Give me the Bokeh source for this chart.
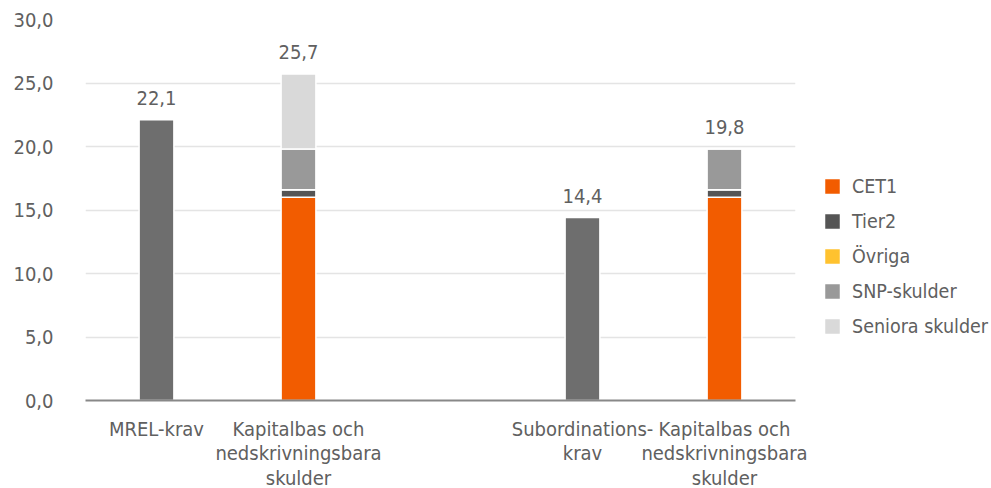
from bokeh.plotting import figure
from bokeh.models import ColumnDataSource, FixedTicker, Legend, LegendItem, Range1d
from bokeh.core.properties import value
from bokeh.embed import file_html
from bokeh.resources import INLINE

# Category slots (index 2 is an empty spacer between the two groups)
categories = ["MREL-krav", "Kapitalbas och\nnedskrivningsbara\nskulder", "",
              "Subordinations-\nkrav", "Kapitalbas och\nnedskrivningsbara\nskulder"]

# Requirement bars (single gray bars)
krav_x = [0, 3]
krav_values = [22.1, 14.4]

# Stacked capital / liabilities bars
stack_x = [1, 4]
cet1 = [16.0, 16.0]
tier2 = [0.6, 0.6]
ovriga = [0.0, 0.0]
snp = [3.2, 3.2]
seniora = [5.9, 0.0]

series_names = ["CET1", "Tier2", "Övriga", "SNP-skulder", "Seniora skulder"]
series_colors = ["#F25C00", "#555555", "#FFC22F", "#999999", "#D9D9D9"]
krav_color = "#6E6E6E"

y_ticks = [0, 5, 10, 15, 20, 25, 30]

FONT = "DejaVu Sans Condensed"
FONT_SIZE = "20px"
TEXT_COLOR = "#606060"


def fmt(v):
    return f"{v:.1f}".replace(".", ",")


p = figure(frame_width=710, frame_height=381, output_backend="svg",
           toolbar_location=None,
           x_range=Range1d(-0.5, 4.5), y_range=Range1d(0, 30),
           min_border_left=85, min_border_right=0, min_border_top=19,
           min_border_bottom=88)
p.outline_line_color = None
p.background_fill_color = "white"
p.border_fill_color = "white"

# Requirement bars
p.vbar(x=krav_x, top=krav_values, width=0.245, fill_color=krav_color,
       line_color="white", line_width=1.5)

# Stacked bars
src = ColumnDataSource(dict(x=stack_x, CET1=cet1, Tier2=tier2, Ovriga=ovriga,
                            SNP=snp, Seniora=seniora))
keys = ["CET1", "Tier2", "Ovriga", "SNP", "Seniora"]
renderers = p.vbar_stack(keys, x="x", width=0.245, source=src,
                         fill_color=series_colors, line_color="white",
                         line_width=1.5)

# Value labels above each bar
totals = [sum(v) for v in zip(cet1, tier2, ovriga, snp, seniora)]
lab_x = krav_x + stack_x
lab_y = krav_values + totals
p.text(x=lab_x, y=lab_y, text=[fmt(v) for v in lab_y], text_align="center",
       text_baseline="bottom", y_offset=-15, text_font=value(FONT),
       text_font_size=FONT_SIZE, text_color=TEXT_COLOR)

# Axes
p.xaxis.ticker = FixedTicker(ticks=[0, 1, 2, 3, 4])
p.xaxis.major_label_overrides = {i: c for i, c in enumerate(categories)}
p.xaxis.major_tick_line_color = None
p.xaxis.minor_tick_line_color = None
p.xaxis.axis_line_color = "#888888"
p.xaxis.axis_line_width = 2
p.xaxis.major_label_standoff = 10
p.xaxis.major_label_text_font = FONT
p.xaxis.major_label_text_font_size = FONT_SIZE
p.xaxis.major_label_text_line_height = 1.03
p.xaxis.major_label_text_color = TEXT_COLOR

p.yaxis.ticker = FixedTicker(ticks=y_ticks)
p.yaxis.major_label_overrides = {t: fmt(t) for t in y_ticks}
p.yaxis.axis_line_color = None
p.yaxis.major_tick_line_color = None
p.yaxis.minor_tick_line_color = None
p.yaxis.major_label_standoff = 26
p.yaxis.major_label_text_font = FONT
p.yaxis.major_label_text_font_size = FONT_SIZE
p.yaxis.major_label_text_color = TEXT_COLOR

p.xgrid.grid_line_color = None
p.ygrid.grid_line_color = "#E4E4E4"
p.ygrid.grid_line_width = 1.5

# Legend on the right
items = [LegendItem(label=n, renderers=[r]) for n, r in zip(series_names, renderers)]
legend = Legend(items=items, location=(27, 62), orientation="vertical",
                border_line_color=None, background_fill_alpha=0,
                glyph_width=20, glyph_height=20, label_height=24,
                spacing=11, label_standoff=10, padding=0, margin=0,
                label_text_font=FONT, label_text_font_size="19.5px",
                label_text_color=TEXT_COLOR)
p.add_layout(legend, "right")

open("out.html", "w").write(file_html(p, INLINE))
